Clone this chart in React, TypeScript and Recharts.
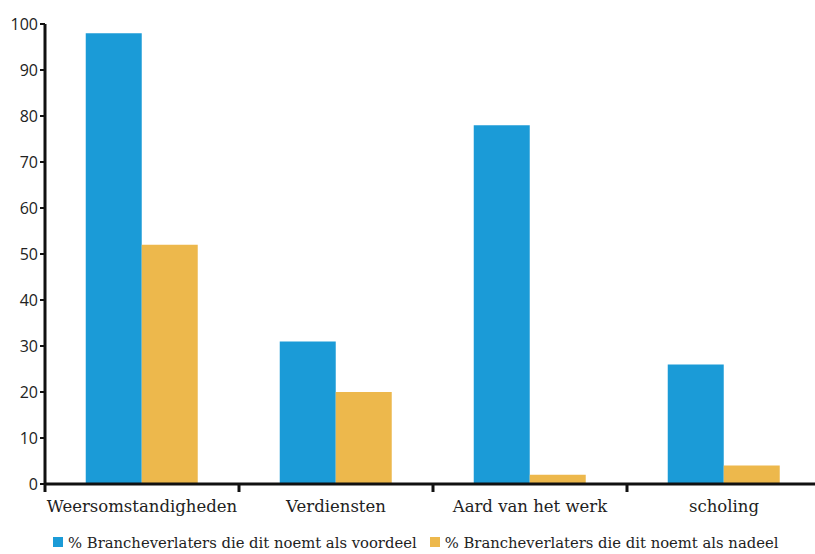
import React from 'react';
import { BarChart, Bar, XAxis, YAxis, Legend } from 'recharts';

const categories = ['Weersomstandigheden', 'Verdiensten', 'Aard van het werk', 'scholing'];
const voordeel = [98, 31, 78, 26];
const nadeel = [52, 20, 2, 4];
const yTicks = [0, 10, 20, 30, 40, 50, 60, 70, 80, 90, 100];

const NAME_VOORDEEL = '% Brancheverlaters die dit noemt als voordeel';
const NAME_NADEEL = '% Brancheverlaters die dit noemt als nadeel';

const data = categories.map((name, i) => ({
  name,
  voordeel: voordeel[i],
  nadeel: nadeel[i],
}));

const serif = '"DejaVu Serif", "Liberation Serif", serif';
const sans = '"Open Sans", "Liberation Sans", sans-serif';

// category label plus a tick mark on the left edge of each band (and the right edge of the last one)
const CategoryTick = (props: any) => {
  const { x, y, payload, index } = props;
  const half = payload && payload.offset ? payload.offset : 97;
  const isLast = index === categories.length - 1;
  return (
    <g>
      <line x1={x - half} x2={x - half} y1={y} y2={y + 8} stroke="#111" strokeWidth={3} />
      {isLast && <line x1={x + half} x2={x + half} y1={y} y2={y + 8} stroke="#111" strokeWidth={3} />}
      <text x={x} y={y + 28} textAnchor="middle" fill="#222" fontSize={16.5} fontFamily={serif}>
        {payload.value}
      </text>
    </g>
  );
};

const square = (color: string) => (
  <span style={{ display: 'inline-block', flexShrink: 0, width: 10, height: 10, background: color, marginRight: 5 }} />
);

const LegendContent = () => (
  <div
    style={{
      display: 'flex',
      alignItems: 'center',
      height: 24,
      paddingLeft: 53,
      fontFamily: serif,
      fontSize: 14.8,
      color: '#222',
      whiteSpace: 'nowrap',
    }}
  >
    {square('#1b9bd7')}
    <span style={{ marginRight: 13 }}>{NAME_VOORDEEL}</span>
    {square('#edb84c')}
    <span>{NAME_NADEEL}</span>
  </div>
);

const App: React.FC = () => {
  return (
    <div style={{ position: 'absolute', left: 0, top: 0, width: 815, height: 554, overflow: 'hidden', background: '#fff' }}>
      <BarChart
        width={830}
        height={554}
        data={data}
        barCategoryGap="21%"
        barGap={0}
        margin={{ top: 24, right: 9, left: 0, bottom: 0 }}
      >
        <XAxis
          dataKey="name"
          height={46}
          axisLine={{ stroke: '#111', strokeWidth: 3 }}
          tickLine={false}
          tickSize={0}
          tickMargin={0}
          tick={<CategoryTick />}
          interval={0}
        />
        <YAxis
          domain={[0, 100]}
          ticks={yTicks}
          width={45}
          interval={0}
          axisLine={{ stroke: '#111', strokeWidth: 3 }}
          tickLine={{ stroke: '#111', strokeWidth: 2 }}
          tickSize={5}
          tickMargin={2}
          tick={{ fontSize: 16, fill: '#222', fontFamily: sans }}
        />
        <Legend verticalAlign="bottom" content={<LegendContent />} />
        <Bar dataKey="voordeel" name={NAME_VOORDEEL} fill="#1b9bd7" isAnimationActive={false} />
        <Bar dataKey="nadeel" name={NAME_NADEEL} fill="#edb84c" isAnimationActive={false} />
      </BarChart>
    </div>
  );
};

export default App;
